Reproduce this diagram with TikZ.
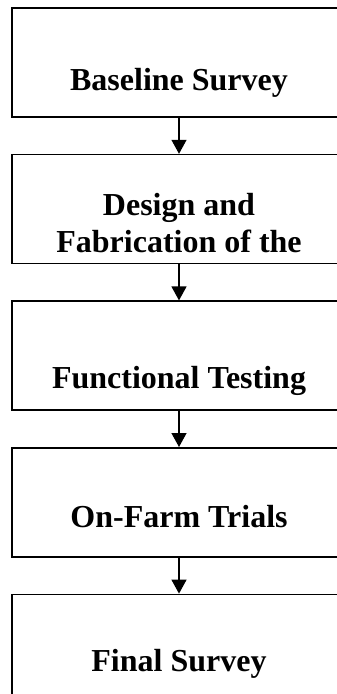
\documentclass[tikz,border=0pt]{standalone}
\usepackage{fontspec}
\setmainfont{Liberation Serif}
\usetikzlibrary{positioning,arrows.meta}

\begin{document}
\begin{tikzpicture}[x=1pt,y=-1pt,node distance=36pt,
		box/.style={draw,line width=1.6pt,minimum width=334pt,minimum height=109pt,inner sep=0pt},
		lbl/.style={font=\fontsize{32}{37}\selectfont\bfseries,anchor=base,align=center},
		arr/.style={line width=1.4pt,-{Triangle[length=14pt,width=15pt]}}]
		\clip (0,0) rectangle (337,694);
		\node [box] (b1) at (179,62.5) {};
		\node [box,below=of b1] (b2) {};
		\node [box,below=of b2] (b3) {};
		\node [box,below=of b3] (b4) {};
		\node [box,below=of b4] (b5) {};
		\node [lbl] (t1) at ([yshift=27pt]b1.south) {Baseline Survey};
		\node [lbl] (t2) at ([yshift=12pt]b2.south) {Design and\\Fabrication of the};
		\node [lbl] (t3) at ([yshift=23pt]b3.south) {Functional Testing};
		\node [lbl] (t4) at ([yshift=30pt]b4.south) {On-Farm Trials};
		\node [lbl] (t5) at ([yshift=-78pt]b5.north) {Final Survey};
		\draw [arr] (b1) -- (b2);
		\draw [arr] (b2) -- (b3);
		\draw [arr] (b3) -- (b4);
		\draw [arr] (b4) -- (b5);
	\end{tikzpicture}
\end{document}
